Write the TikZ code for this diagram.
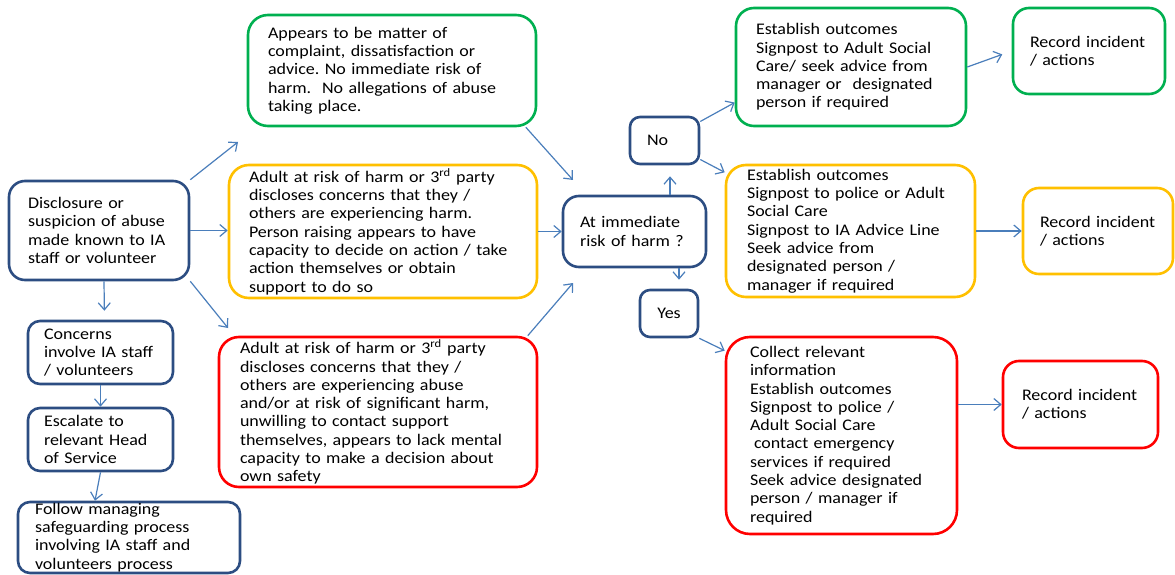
\documentclass[tikz,border=0pt]{standalone}
\usepackage{fontspec}
\setmainfont{Carlito}[FakeStretch=1.11]
\usetikzlibrary{arrows.meta}
\frenchspacing

\definecolor{boxBlue}{RGB}{44,77,130}
\definecolor{lineBlue}{RGB}{74,126,187}
\definecolor{boxGreen}{RGB}{0,176,80}
\definecolor{boxOrange}{RGB}{255,192,0}
\definecolor{boxRed}{RGB}{255,0,0}

\begin{document}
\begin{tikzpicture}[x=1pt,y=1pt,
  box/.style={draw,rounded corners=16pt,line width=2.6pt,fill=white,align=left,
    inner ysep=0pt,font=\fontsize{16.2}{18.3}\selectfont},
  blueBox/.style={box,draw=boxBlue},
  greenBox/.style={box,draw=boxGreen},
  orangeBox/.style={box,draw=boxOrange},
  redBox/.style={box,draw=boxRed},
  smallBox/.style={blueBox,rounded corners=10pt},
  arr/.style={draw=lineBlue,line width=1.2pt,-{Straight Barb[length=7pt,width=12pt]}}]
\path[use as bounding box,fill=white] (0,0) rectangle (1175,574);

% left column
\node[blueBox,minimum width=180pt,minimum height=99pt,text width=142pt,inner xsep=19pt] (disc) at (99,343.5)
  {Disclosure or\\suspicion of abuse\\made known to IA\\staff or volunteer};
\node[blueBox,rounded corners=12pt,minimum width=145pt,minimum height=63pt,text width=113pt,inner xsep=16pt] (concerns) at (100.5,221.5)
  {Concerns\\involve IA staff\\/ volunteers};
\node[blueBox,rounded corners=12pt,minimum width=145pt,minimum height=63pt,text width=113pt,inner xsep=16pt] (escalate) at (100.5,134.5)
  {Escalate to\\relevant Head\\of Service};
\node[blueBox,rounded corners=12pt,minimum width=222pt,minimum height=71pt,text width=188pt,inner xsep=17pt] (follow) at (129,36.5)
  {Follow managing\\safeguarding process\\involving IA staff and\\volunteers process};

% the three kinds of concern
\node[greenBox,rounded corners=20pt,minimum width=288pt,minimum height=111pt,text width=248pt,inner xsep=20pt] (complaint) at (392,503.5)
  {Appears to be matter of\\complaint, dissatisfaction or\\advice. No immediate risk of\\harm.\ \ No allegations of abuse\\taking place.};
\node[orangeBox,rounded corners=20pt,minimum width=308pt,minimum height=133pt,text width=268pt,inner xsep=20pt] (harm) at (383,342.5)
  {Adult at risk of harm or 3\textsuperscript{rd} party\\discloses concerns that they /\\others are experiencing harm.\\Person raising appears to have\\capacity to decide on action / take\\action themselves or obtain\\support to do so};
\node[redBox,rounded corners=20pt,minimum width=318pt,minimum height=150pt,text width=276pt,inner xsep=21pt] (abuse) at (378,162)
  {Adult at risk of harm or 3\textsuperscript{rd} party\\discloses concerns that they /\\others are experiencing abuse\\and/or at risk of significant harm,\\unwilling to contact support\\themselves, appears to lack mental\\capacity to make a decision about\\own safety};

% decision
\node[blueBox,minimum width=143pt,minimum height=71pt,text width=109pt,inner xsep=17pt] (risk) at (634.5,342.5)
  {At immediate\\risk of harm ?};
\node[smallBox,minimum width=69pt,minimum height=47pt,text width=35pt,inner xsep=17pt] (no) at (664.5,433.5) {No};
\node[smallBox,align=center,minimum width=58pt,minimum height=47pt,text width=38pt,inner xsep=10pt] (yes) at (669,260.5) {Yes};

% outcomes
\node[greenBox,rounded corners=18pt,minimum width=230pt,minimum height=118pt,text width=190pt,inner xsep=20pt] (noOut) at (851,507)
  {Establish outcomes\\Signpost to Adult Social\\Care/ seek advice from\\manager or \ designated\\person if required};
\node[greenBox,minimum width=152pt,minimum height=86pt,text width=118pt,inner xsep=17pt] (noRec) at (1089,523)
  {Record incident\\/ actions};
\node[orangeBox,rounded corners=20pt,minimum width=249pt,minimum height=132pt,text width=207pt,inner xsep=21pt] (midOut) at (850.5,343)
  {Establish outcomes\\Signpost to police or Adult\\Social Care\\Signpost to IA Advice Line\\Seek advice from\\designated person /\\manager if required};
\node[orangeBox,minimum width=150pt,minimum height=86pt,text width=116pt,inner xsep=17pt] (midRec) at (1098,343)
  {Record incident\\/ actions};
\node[redBox,rounded corners=24pt,minimum width=231pt,minimum height=197pt,text width=183pt,inner xsep=24pt] (yesOut) at (841.5,138.5)
  {Collect relevant\\information\\Establish outcomes\\Signpost to police /\\Adult Social Care\\\hspace*{4pt}contact emergency\\services if required\\Seek advice designated\\person / manager if\\required};
\node[redBox,minimum width=155pt,minimum height=87pt,text width=117pt,inner xsep=19pt] (yesRec) at (1080.5,169.5)
  {Record incident\\/ actions};

% free arrow ends
\coordinate (toComplaint) at (238,432);
\coordinate (toAbuse) at (228,246);
\coordinate (fromComplaint) at (573,394);
\coordinate (fromAbuse) at (573,291);

% connectors
\draw[arr] (disc.north east) -- (toComplaint);
\draw[arr] (disc.east) -- (disc.east -| harm.west);
\draw[arr] (disc.south east) -- (toAbuse);
\draw[arr,shorten >=9pt] ([xshift=5pt]disc.south) -- ([xshift=4pt]concerns.north);
\draw[arr] (concerns.south) -- (escalate.north);
\draw[arr] (escalate.south) -- ([xshift=-34pt]follow.north);
\draw[arr] (complaint.-23) -- (fromComplaint);
\draw[arr] (harm.east) -- (risk.west);
\draw[arr] (abuse.27) -- (fromAbuse);
\draw[arr,shorten >=11pt] ([xshift=35.5pt]risk.north) -- ([xshift=5.5pt]no.south);
\draw[arr,shorten >=9pt] ([xshift=44.5pt]risk.south) -- ([xshift=10pt]yes.north);
\draw[arr] (no.28) -- (noOut.197);
\draw[arr] (no.-28) -- (midOut.155);
\draw[arr] (yes.south east) -- (yesOut.144);
\draw[arr,shorten >=10pt] (noOut.east) -- (noRec.west);
\draw[arr] (midOut.east) -- (midRec.west);
\draw[arr] (yesOut.east |- yesRec.west) -- (yesRec.west);
\end{tikzpicture}
\end{document}
